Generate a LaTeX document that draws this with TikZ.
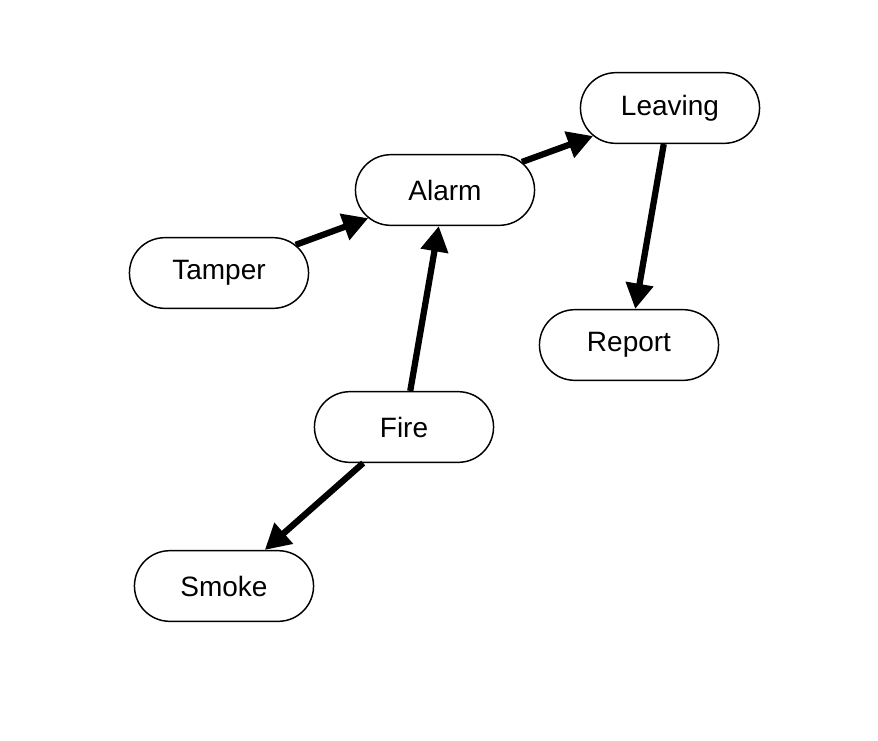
\documentclass[tikz,border=0pt]{standalone}
\usepackage{fontspec}
\setmainfont{Liberation Sans}
\usetikzlibrary{shapes.misc,arrows.meta}
\begin{document}
\begin{tikzpicture}[
x=0.75pt,y=-0.75pt,
state/.style={draw,rounded rectangle,line width=1.1pt,minimum width=141pt,minimum height=53pt,font=\fontsize{21}{25}\selectfont},
edge/.style={line width=4.7pt,-{Triangle[length=19pt,width=20pt]}}]
\useasboundingbox (0,0) rectangle (878,740);
\node[state] (leaving) at (670,108) {Leaving};
\node[state] (alarm) at (445,190) {Alarm};
\node[state] (tamper) at (219,273) {Tamper};
\node[state] (report) at (629,345) {Report};
\node[state] (fire) at (404,427) {Fire};
\node[state] (smoke) at (224,586) {Smoke};
\draw[edge] (tamper) -- (alarm);
\draw[edge] (alarm) -- (leaving);
\draw[edge] (fire) -- (alarm);
\draw[edge] (leaving) -- (report);
\draw[edge] (fire) -- (smoke);
\end{tikzpicture}
\end{document}
